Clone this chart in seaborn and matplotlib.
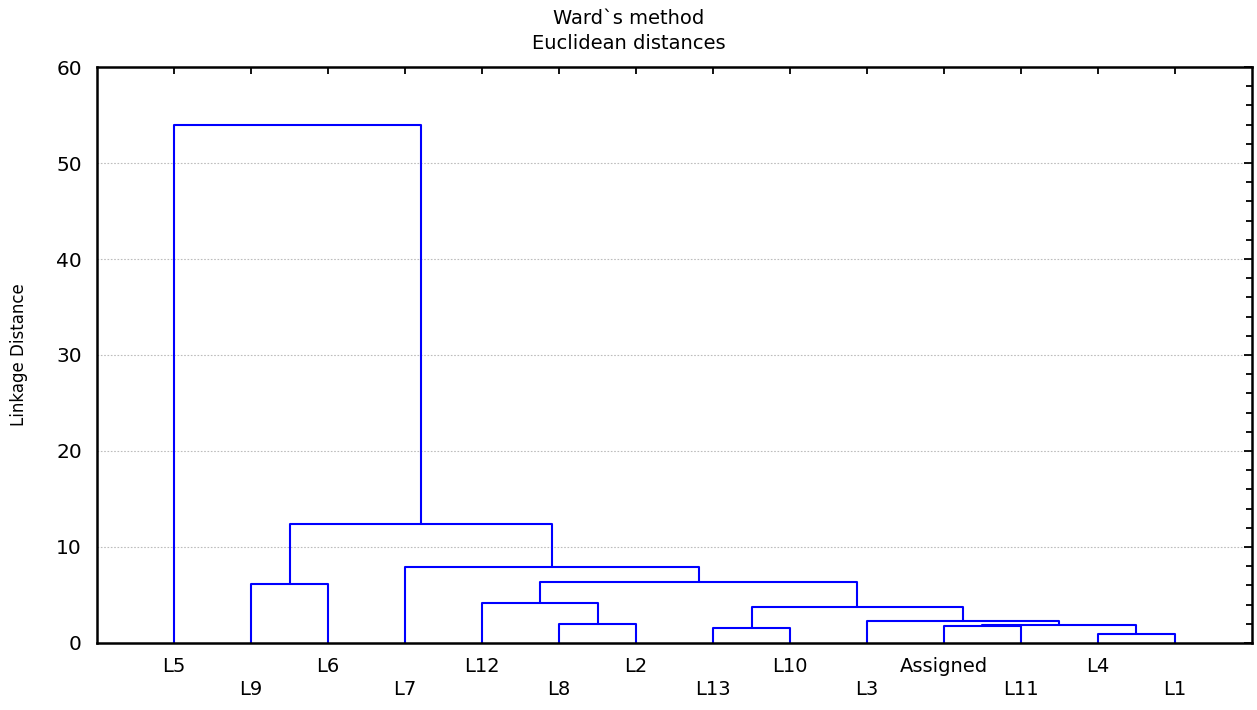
import numpy as np
import pandas as pd
import matplotlib
matplotlib.use("Agg")
import matplotlib.pyplot as plt
import seaborn as sns
from matplotlib.ticker import MultipleLocator

# ---- data ----
leaves = ["L5", "L9", "L6", "L7", "L12", "L8", "L2", "L13", "L10", "L3",
          "Assigned", "L11", "L4", "L1"]
# merges: (left member, right member, linkage distance); clusters named C1..C13 in order
merge_left = ["L4", "L13", "Assigned", "C3", "L8", "L3", "C2", "L12", "L9", "C8", "L7", "C9", "L5"]
merge_right = ["L1", "L10", "L11", "C1", "L2", "C4", "C6", "C5", "L6", "C7", "C10", "C11", "C12"]
merge_height = [0.97, 1.56, 1.73, 1.84, 1.95, 2.26, 3.78, 4.20, 6.16, 6.37, 7.93, 12.36, 54.0]
y_ticks = [0, 10, 20, 30, 40, 50, 60]

# ---- build dendrogram segments ----
pos = {name: i + 1 for i, name in enumerate(leaves)}
hgt = {name: 0.0 for name in leaves}
rows = []
for k, (a, b, h) in enumerate(zip(merge_left, merge_right, merge_height)):
    cname = f"C{k + 1}"
    xs = [pos[a], pos[a], pos[b], pos[b]]
    ys = [hgt[a], h, h, hgt[b]]
    for j, (x, y) in enumerate(zip(xs, ys)):
        rows.append({"x": x, "y": y, "link": cname, "order": j})
    pos[cname] = (pos[a] + pos[b]) / 2
    hgt[cname] = h
df = pd.DataFrame(rows)

sns.set_style("white")
plt.rcParams["font.family"] = ["DejaVu Sans"]

fig = plt.figure(figsize=(12.57, 7.10), dpi=100)
ax = fig.add_axes([0.0772, 0.0944, 0.9188, 0.8112])

sns.lineplot(data=df, x="x", y="y", units="link", estimator=None, sort=False,
             color="#0000ff", linewidth=1.5, ax=ax, legend=False)

ax.set_xlim(0, len(leaves) + 1)
ax.set_ylim(0, 60)
ax.set_yticks(y_ticks)
ax.yaxis.set_minor_locator(MultipleLocator(2))
ax.set_xticks(range(1, len(leaves) + 1))
ax.set_xticklabels([n if i % 2 == 0 else "\n" + n for i, n in enumerate(leaves)],
                   fontsize=14, color="black", linespacing=1.25)
for lbl in ax.get_yticklabels():
    lbl.set_fontsize(14.5)
    lbl.set_color("black")

ax.tick_params(axis="both", which="both", direction="in", top=True, right=True,
               color="black", width=1.3)
ax.tick_params(axis="y", which="major", length=6, pad=11)
ax.tick_params(axis="y", which="minor", length=4)
ax.tick_params(axis="x", which="major", length=5, pad=10)

for y in y_ticks[1:-1]:
    ax.axhline(y, color="#bdbdbd", linestyle=(0, (1.5, 1.5)), linewidth=0.8, zorder=0)

for s in ax.spines.values():
    s.set_color("black")
    s.set_linewidth(1.8)
    s.set_visible(True)

ax.set_xlabel("")
ax.set_ylabel("Linkage Distance", fontsize=12, color="black", labelpad=20)
fig.text(0.5, 0.974, "Ward`s method", ha="center", va="center", fontsize=14, color="black")
fig.text(0.5, 0.939, "Euclidean distances", ha="center", va="center", fontsize=14, color="black")

fig.savefig("out.png", dpi=100, facecolor="white")
